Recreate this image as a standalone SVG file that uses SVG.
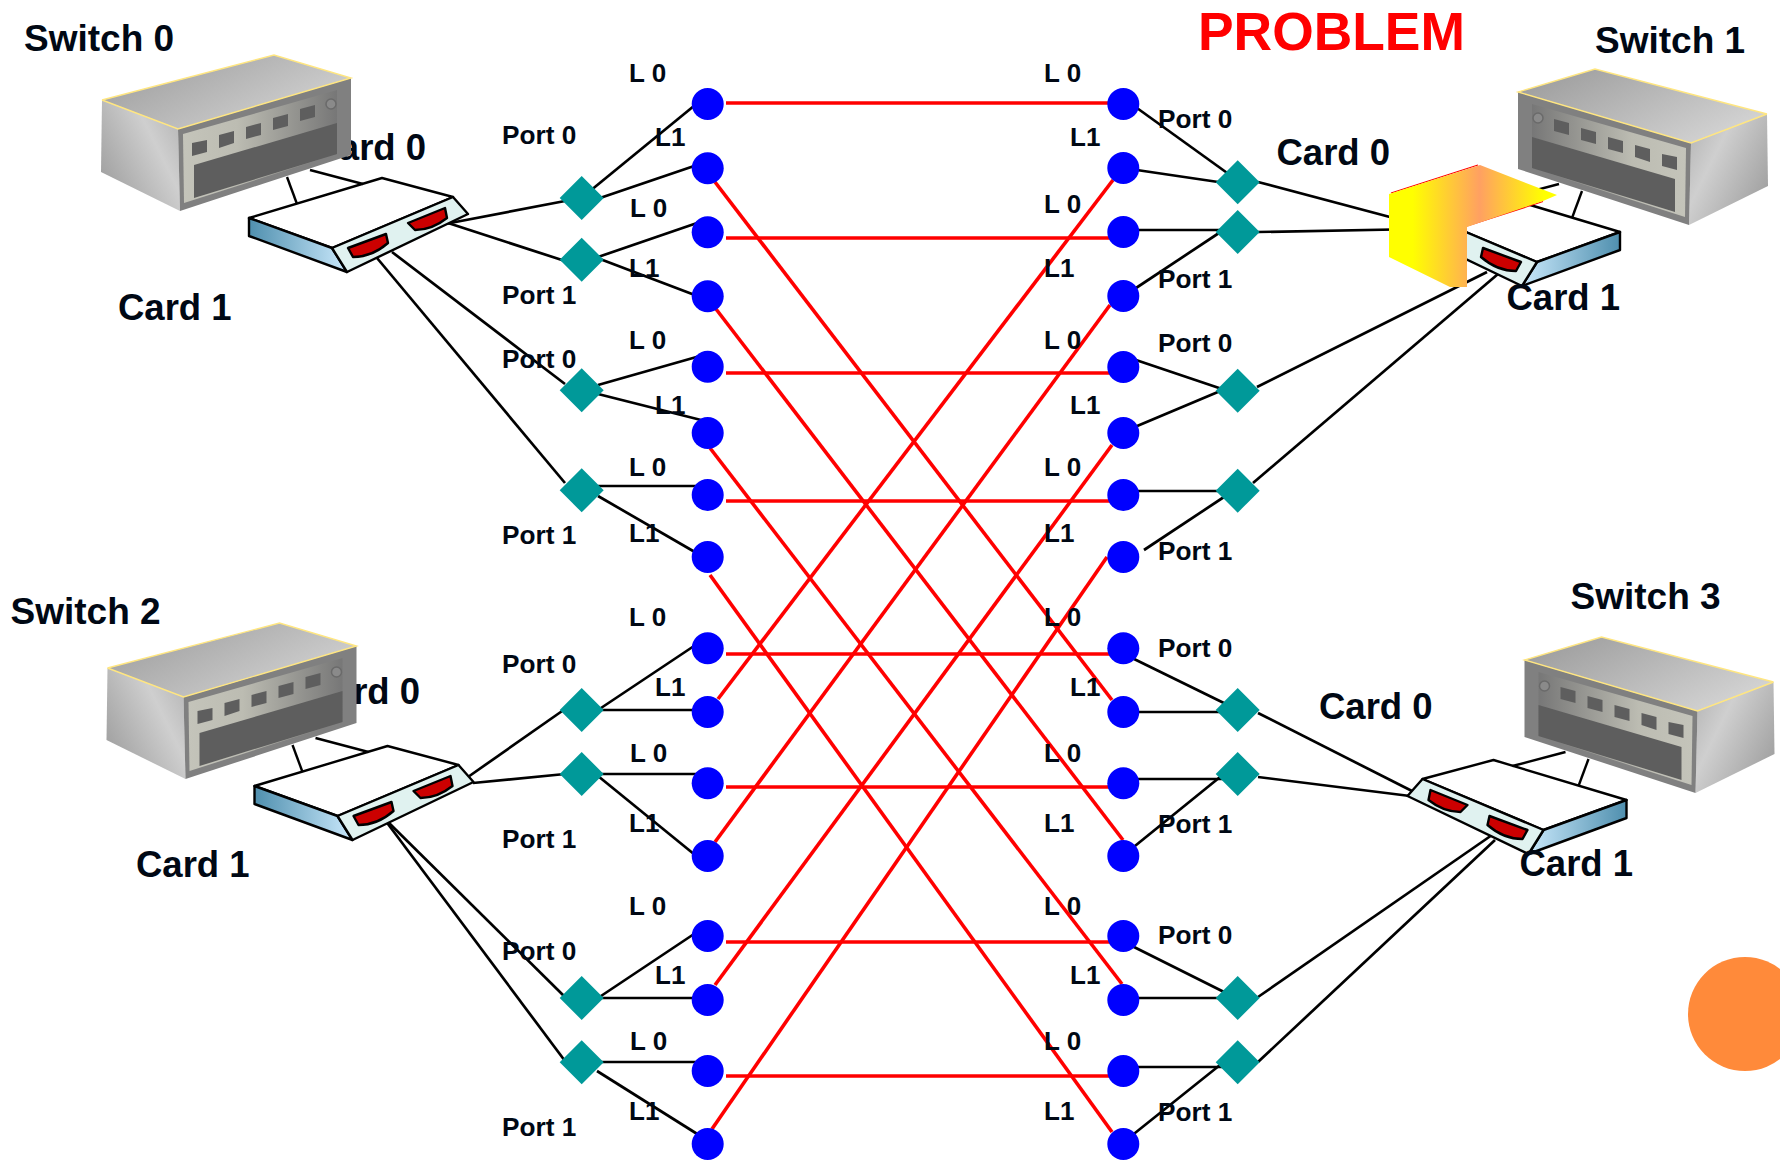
<svg xmlns="http://www.w3.org/2000/svg" width="1780" height="1162" viewBox="0 0 1780 1162">
<style>
text{font-family:"Liberation Sans",Arial,sans-serif;font-weight:700;fill:#000814}
.sw{font-size:37px}.cd{font-size:36.5px}.pt{font-size:26.2px}.lk{font-size:26px}
.title{font-size:53.4px;fill:#ff0000}
.blk line{stroke:#000;stroke-width:2.7}
.red line{stroke:#ff0000;stroke-width:3.6}
.pin{fill:#0000ff}.dia{fill:#009999}
</style>
<defs>
<linearGradient id="topL" x1="0" y1="0" x2="1" y2="0.6"><stop offset="0" stop-color="#989898"/><stop offset="1" stop-color="#d2d2d2"/></linearGradient>
<linearGradient id="topR" x1="1" y1="0" x2="0" y2="0.6"><stop offset="0" stop-color="#989898"/><stop offset="1" stop-color="#d2d2d2"/></linearGradient>
<linearGradient id="side" x1="0" y1="0.9" x2="1" y2="0.2"><stop offset="0" stop-color="#9a9a9a"/><stop offset="0.7" stop-color="#cfcfcf"/><stop offset="1" stop-color="#b8b8b8"/></linearGradient>
<linearGradient id="plate" x1="0" y1="0" x2="1" y2="0"><stop offset="0" stop-color="#c4c4ba"/><stop offset="0.35" stop-color="#bcbcb2"/><stop offset="1" stop-color="#777"/></linearGradient>
<linearGradient id="edge" x1="0" y1="0" x2="1" y2="0"><stop offset="0" stop-color="#4f8fae"/><stop offset="1" stop-color="#c9e8fb"/></linearGradient>
<linearGradient id="fold" gradientUnits="userSpaceOnUse" x1="1389" y1="0" x2="1557" y2="0"><stop offset="0" stop-color="#ffff00"/><stop offset="0.14" stop-color="#ffff00"/><stop offset="0.54" stop-color="#ffa062"/><stop offset="0.92" stop-color="#ffff00"/></linearGradient>
<g id="switchBox">
<polygon points="102,100 101,172 180,211 178,129" fill="url(#side)"/>
<polygon points="178,129 351,78 351,155 180,211" fill="#808080"/>
<polygon points="183,134 337,90 337,154 184,203" fill="url(#plate)"/>
<polygon points="194,165 337,123 337,154 194,198" fill="#5e5e5e"/>
<polygon points="192,143 207,140 207,152 192,156" fill="#5e5e5e"/>
<polygon points="219,135 234,131 234,143 219,148" fill="#5e5e5e"/>
<polygon points="246,127 261,123 261,135 246,139" fill="#5e5e5e"/>
<polygon points="273,118 288,114 288,126 273,130" fill="#5e5e5e"/>
<polygon points="300,109 315,105 315,117 300,121" fill="#5e5e5e"/>
<circle cx="331" cy="104" r="5" fill="#8a8a8a" stroke="#6a6a6a" stroke-width="1.5"/>
<polygon points="102,100 274,55 351,78 178,129"/>
<polyline points="102,100 178,129 351,78 274,55 102,100" fill="none" stroke="#ffe680" stroke-width="1.4"/>
</g>
<g id="cardBox" stroke="#000" stroke-width="2.4" stroke-linejoin="round">
<polygon points="249,218 382,178 453,197 332,248" fill="#fff"/>
<polygon points="249,218 249,236 347,272 332,248" fill="url(#edge)"/>
<polygon points="332,248 453,197 468,214 347,272" fill="#e0f2f0"/>
<path d="M348,248 L386,234 L388,243 Q372,257 353,257 Z" fill="#cc0000"/>
<path d="M408,223 L445,208 L447,218 Q432,230 415,230 Z" fill="#cc0000"/>
<line x1="287" y1="177" x2="297" y2="204"/>
<line x1="310" y1="170" x2="363" y2="184"/>
</g>
</defs>
<g id="connectors">
<g class="blk">
<line x1="445" y1="224" x2="565" y2="201"/><line x1="445" y1="222" x2="565" y2="261"/><line x1="392" y1="252" x2="565" y2="384"/><line x1="377" y1="258" x2="565" y2="483"/>
<line x1="468" y1="777" x2="565" y2="709"/><line x1="473" y1="783" x2="565" y2="774"/><line x1="388" y1="822" x2="565" y2="997"/><line x1="385" y1="820" x2="565" y2="1061"/>
<line x1="1258" y1="182" x2="1420" y2="225"/><line x1="1258" y1="232" x2="1420" y2="229"/><line x1="1257" y1="387" x2="1487" y2="272"/><line x1="1253" y1="483" x2="1498" y2="274"/>
<line x1="1258" y1="713" x2="1412" y2="791"/><line x1="1258" y1="777" x2="1410" y2="796"/><line x1="1258" y1="997" x2="1492" y2="835"/><line x1="1258" y1="1062" x2="1495" y2="840"/>
<line x1="590" y1="191" x2="700" y2="101"/><line x1="600" y1="198" x2="700" y2="164"/><line x1="598" y1="257" x2="700" y2="222"/><line x1="600" y1="259" x2="700" y2="297"/>
<line x1="598" y1="385" x2="700" y2="356"/><line x1="598" y1="394" x2="705" y2="421"/><line x1="598" y1="486" x2="700" y2="486"/><line x1="598" y1="496" x2="700" y2="555"/>
<line x1="598" y1="710" x2="700" y2="642"/><line x1="598" y1="710" x2="700" y2="710"/><line x1="598" y1="774" x2="700" y2="774"/><line x1="598" y1="776" x2="700" y2="859"/>
<line x1="598" y1="998" x2="700" y2="930"/><line x1="598" y1="998" x2="700" y2="998"/><line x1="598" y1="1062" x2="700" y2="1062"/><line x1="597" y1="1071" x2="702" y2="1137"/>
<line x1="1230" y1="175" x2="1130" y2="103"/><line x1="1225" y1="183" x2="1130" y2="169"/><line x1="1225" y1="230" x2="1130" y2="230"/><line x1="1225" y1="229" x2="1130" y2="292"/>
<line x1="1225" y1="390" x2="1130" y2="358"/><line x1="1225" y1="389" x2="1130" y2="429"/><line x1="1225" y1="491" x2="1130" y2="491"/><line x1="1230" y1="493" x2="1144" y2="550"/>
<line x1="1230" y1="706" x2="1130" y2="657"/><line x1="1225" y1="712" x2="1130" y2="712"/><line x1="1225" y1="779" x2="1130" y2="779"/><line x1="1225" y1="773" x2="1130" y2="850"/>
<line x1="1230" y1="995" x2="1130" y2="945"/><line x1="1225" y1="998" x2="1130" y2="998"/><line x1="1225" y1="1067" x2="1130" y2="1067"/><line x1="1225" y1="1061" x2="1130" y2="1137"/>
</g>
<g class="red">
<line x1="726" y1="103" x2="1110" y2="103"/><line x1="726" y1="238" x2="1110" y2="238"/><line x1="726" y1="373" x2="1110" y2="373"/><line x1="726" y1="501" x2="1110" y2="501"/>
<line x1="726" y1="654" x2="1110" y2="654"/><line x1="726" y1="787" x2="1110" y2="787"/><line x1="726" y1="942" x2="1110" y2="942"/><line x1="726" y1="1076" x2="1110" y2="1076"/>
<line x1="715" y1="182" x2="1112" y2="700"/><line x1="716" y1="309" x2="1123" y2="840"/><line x1="710" y1="448" x2="1122" y2="984"/><line x1="710" y1="575" x2="1112" y2="1132"/>
<line x1="1113" y1="180" x2="718" y2="699"/><line x1="1110" y1="305" x2="715" y2="842"/><line x1="1112" y1="445" x2="715" y2="985"/><line x1="1107" y1="557" x2="712" y2="1129"/>
</g>
</g>
<g id="pins">
<g class="pin" id="pins-left">
<circle cx="707.7" cy="104" r="16"/><circle cx="707.7" cy="168.3" r="16"/><circle cx="707.7" cy="232.3" r="16"/><circle cx="707.7" cy="296.3" r="16"/><circle cx="707.7" cy="366.7" r="16"/><circle cx="707.7" cy="433" r="16"/><circle cx="707.7" cy="495" r="16"/><circle cx="707.7" cy="557" r="16"/>
<circle cx="707.7" cy="648.3" r="16"/><circle cx="707.7" cy="712" r="16"/><circle cx="707.7" cy="783.3" r="16"/><circle cx="707.7" cy="856" r="16"/><circle cx="707.7" cy="936" r="16"/><circle cx="707.7" cy="1000" r="16"/><circle cx="707.7" cy="1071" r="16"/><circle cx="707.7" cy="1144" r="16"/>
</g>
<g class="pin" id="pins-right">
<circle cx="1123.3" cy="104" r="16"/><circle cx="1123.3" cy="168" r="16"/><circle cx="1123.3" cy="232" r="16"/><circle cx="1123.3" cy="296" r="16"/><circle cx="1123.3" cy="367" r="16"/><circle cx="1123.3" cy="433" r="16"/><circle cx="1123.3" cy="495" r="16"/><circle cx="1123.3" cy="557" r="16"/>
<circle cx="1123.3" cy="648.3" r="16"/><circle cx="1123.3" cy="712" r="16"/><circle cx="1123.3" cy="783.3" r="16"/><circle cx="1123.3" cy="856" r="16"/><circle cx="1123.3" cy="936" r="16"/><circle cx="1123.3" cy="1000" r="16"/><circle cx="1123.3" cy="1071" r="16"/><circle cx="1123.3" cy="1144" r="16"/>
</g>
</g>
<g id="ports">
<g class="dia" id="ports-left">
<polygon points="581.7,176 603.7,198 581.7,220 559.7,198"/><polygon points="581.7,237.7 603.7,259.7 581.7,281.7 559.7,259.7"/><polygon points="581.7,368.3 603.7,390.3 581.7,412.3 559.7,390.3"/><polygon points="581.7,468.3 603.7,490.3 581.7,512.3 559.7,490.3"/>
<polygon points="581.7,688 603.7,710 581.7,732 559.7,710"/><polygon points="581.7,752 603.7,774 581.7,796 559.7,774"/><polygon points="581.7,976 603.7,998 581.7,1020 559.7,998"/><polygon points="581.7,1040.3 603.7,1062.3 581.7,1084.3 559.7,1062.3"/>
</g>
<g class="dia" id="ports-right">
<polygon points="1237.7,160.3 1259.7,182.3 1237.7,204.3 1215.7,182.3"/><polygon points="1237.7,210 1259.7,232 1237.7,254 1215.7,232"/><polygon points="1237.7,368.7 1259.7,390.7 1237.7,412.7 1215.7,390.7"/><polygon points="1237.7,468.7 1259.7,490.7 1237.7,512.7 1215.7,490.7"/>
<polygon points="1237.7,688 1259.7,710 1237.7,732 1215.7,710"/><polygon points="1237.7,752 1259.7,774 1237.7,796 1215.7,774"/><polygon points="1237.7,976 1259.7,998 1237.7,1020 1215.7,998"/><polygon points="1237.7,1040.3 1259.7,1062.3 1237.7,1084.3 1215.7,1062.3"/>
</g>
</g>
<g id="link-labels">
<text class="lk" x="629" y="82">L 0</text><text class="lk" x="655" y="146">L1</text><text class="lk" x="630" y="217">L 0</text><text class="lk" x="629" y="277">L1</text><text class="lk" x="629" y="349">L 0</text><text class="lk" x="655" y="414">L1</text><text class="lk" x="629" y="476">L 0</text><text class="lk" x="629" y="542">L1</text>
<text class="lk" x="629" y="626">L 0</text><text class="lk" x="655" y="696">L1</text><text class="lk" x="630" y="762">L 0</text><text class="lk" x="629" y="832">L1</text><text class="lk" x="629" y="915">L 0</text><text class="lk" x="655" y="984">L1</text><text class="lk" x="630" y="1050">L 0</text><text class="lk" x="629" y="1120">L1</text>
<text class="lk" x="1044" y="82">L 0</text><text class="lk" x="1070" y="146">L1</text><text class="lk" x="1044" y="213">L 0</text><text class="lk" x="1044" y="277">L1</text><text class="lk" x="1044" y="349">L 0</text><text class="lk" x="1070" y="414">L1</text><text class="lk" x="1044" y="476">L 0</text><text class="lk" x="1044" y="542">L1</text>
<text class="lk" x="1044" y="626">L 0</text><text class="lk" x="1070" y="696">L1</text><text class="lk" x="1044" y="762">L 0</text><text class="lk" x="1044" y="832">L1</text><text class="lk" x="1044" y="915">L 0</text><text class="lk" x="1070" y="984">L1</text><text class="lk" x="1044" y="1050">L 0</text><text class="lk" x="1044" y="1120">L1</text>
</g>
<g id="port-labels">
<text class="pt" x="502" y="144">Port 0</text><text class="pt" x="502" y="304">Port 1</text><text class="pt" x="502" y="368">Port 0</text><text class="pt" x="502" y="544">Port 1</text><text class="pt" x="502" y="672.5">Port 0</text><text class="pt" x="502" y="848">Port 1</text><text class="pt" x="502" y="960">Port 0</text><text class="pt" x="502" y="1136">Port 1</text>
<text class="pt" x="1158" y="128">Port 0</text><text class="pt" x="1158" y="288">Port 1</text><text class="pt" x="1158" y="352">Port 0</text><text class="pt" x="1158" y="560">Port 1</text><text class="pt" x="1158" y="656.5">Port 0</text><text class="pt" x="1158" y="832.5">Port 1</text><text class="pt" x="1158" y="944">Port 0</text><text class="pt" x="1158" y="1120.5">Port 1</text>
</g>
<g id="switch0">
<text class="cd" x="312.5" y="160">Card 0</text>
<use href="#cardBox"/>
<use href="#switchBox" fill="url(#topL)"/>
<text class="sw" x="24" y="51">Switch 0</text>
<text class="cd" x="118" y="320">Card 1</text>
</g>
<g id="switch2">
<text class="cd" x="306.5" y="704">Card 0</text>
<use href="#cardBox" transform="translate(5.5,568)"/>
<use href="#switchBox" fill="url(#topL)" transform="translate(5.5,568)"/>
<text class="sw" x="10.5" y="623.5">Switch 2</text>
<text class="cd" x="136" y="877">Card 1</text>
</g>
<g id="switch1">
<use href="#cardBox" transform="translate(1869,14) scale(-1,1)"/>
<use href="#switchBox" fill="url(#topR)" transform="translate(1869,14) scale(-1,1)"/>
<text class="sw" x="1595" y="53">Switch 1</text>
<text class="cd" x="1276.5" y="165">Card 0</text>
</g>
<g id="fold-shape">
<path d="M1391,193 L1478,165 M1467,226 L1543,201.5" fill="none" stroke="#ff0000" stroke-width="1.3"/>
<polygon points="1389,194 1480,165 1557,195 1543,201 1467,227 1467,287 1450,287 1389,257" fill="url(#fold)"/>
<text class="cd" x="1506.5" y="310">Card 1</text>
</g>
<g id="switch3">
<use href="#cardBox" transform="translate(1875.5,582) scale(-1,1)"/>
<use href="#switchBox" fill="url(#topR)" transform="translate(1875.5,582) scale(-1,1)"/>
<text class="sw" x="1570.5" y="609">Switch 3</text>
<text class="cd" x="1319" y="719">Card 0</text>
<text class="cd" x="1519.5" y="876">Card 1</text>
</g>
<text class="title" x="1198" y="49.5">PROBLEM</text>
<circle id="orange-dot" cx="1745" cy="1014" r="57" fill="#ff8a3a"/>
</svg>
